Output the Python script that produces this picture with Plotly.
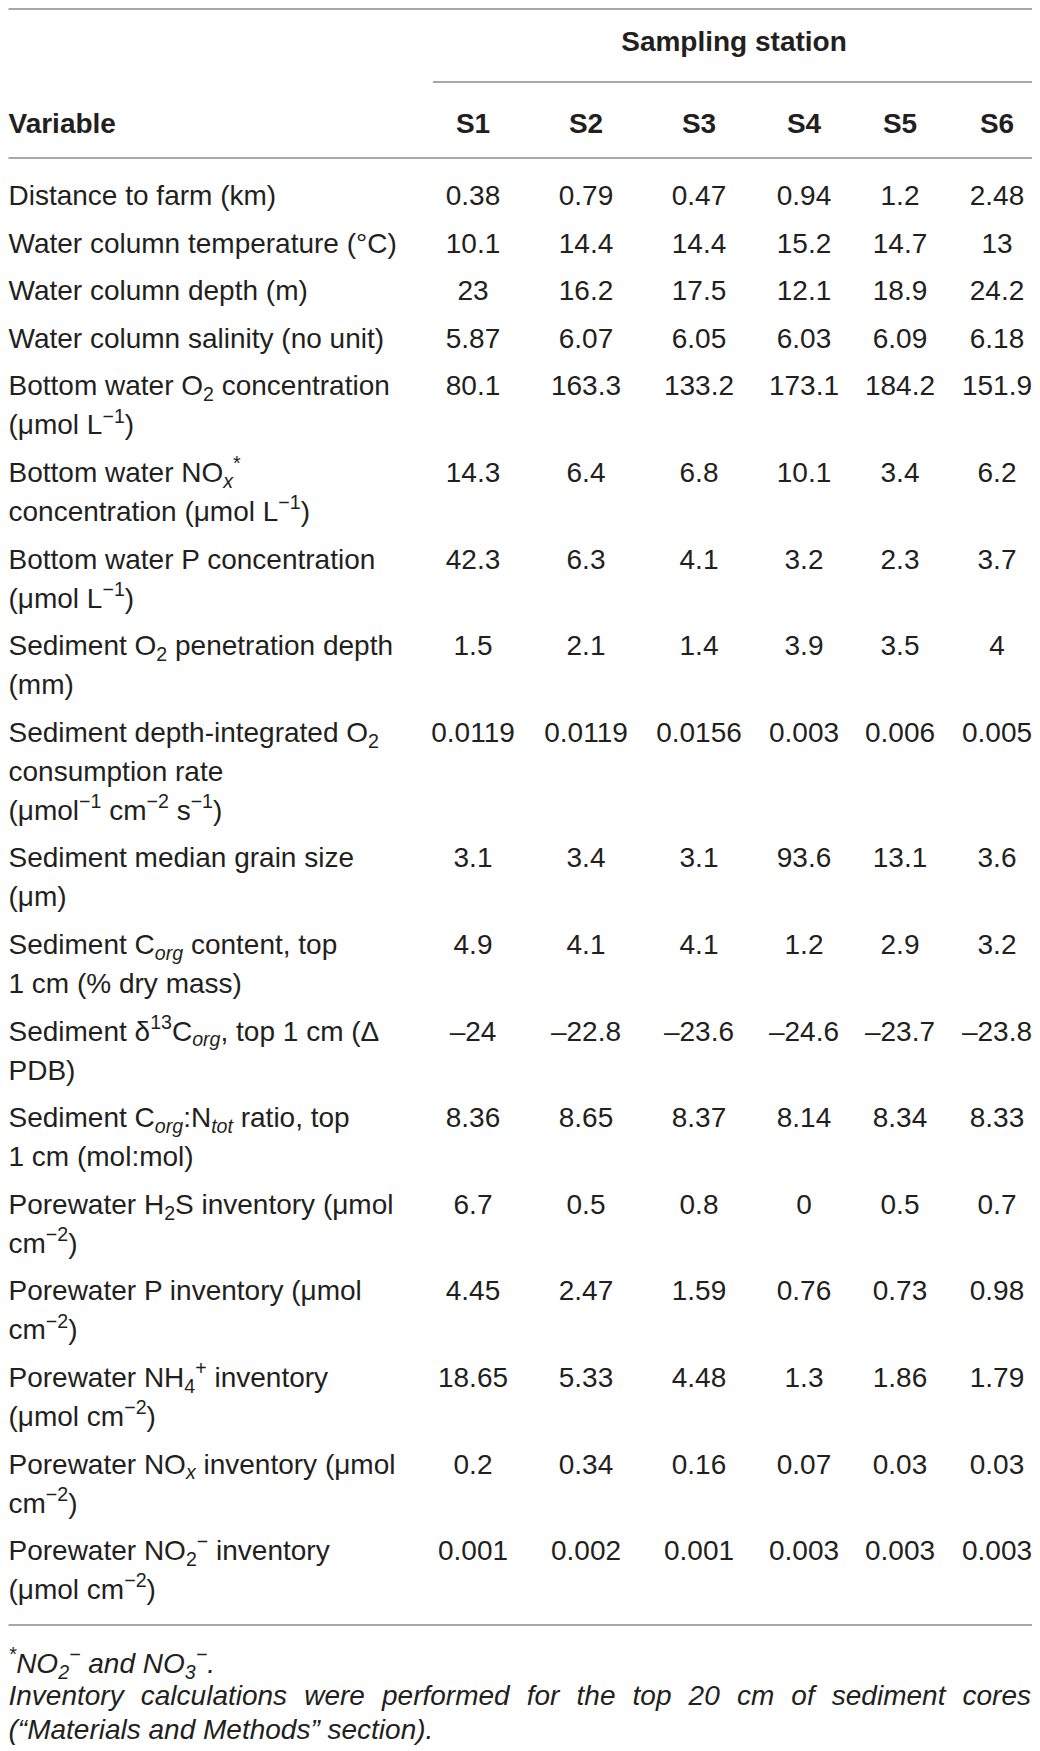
import plotly.graph_objects as go

# ---------------- data ----------------
stations = ["S1", "S2", "S3", "S4", "S5", "S6"]

variables = [
    "Distance to farm (km)",
    "Water column temperature (°C)",
    "Water column depth (m)",
    "Water column salinity (no unit)",
    "Bottom water O<sub>2</sub> concentration<br>(μmol L<sup>−1</sup>)",
    "Bottom water NO<sub><i>x</i></sub><sup>*</sup><br>concentration (μmol L<sup>−1</sup>)",
    "Bottom water P concentration<br>(μmol L<sup>−1</sup>)",
    "Sediment O<sub>2</sub> penetration depth<br>(mm)",
    "Sediment depth-integrated O<sub>2</sub><br>consumption rate<br>(μmol<sup>−1</sup> cm<sup>−2</sup> s<sup>−1</sup>)",
    "Sediment median grain size<br>(μm)",
    "Sediment C<sub><i>org</i></sub> content, top<br>1 cm (% dry mass)",
    "Sediment δ<sup>13</sup>C<sub><i>org</i></sub>, top 1 cm (Δ<br>PDB)",
    "Sediment C<sub><i>org</i></sub>:N<sub><i>tot</i></sub> ratio, top<br>1 cm (mol:mol)",
    "Porewater H<sub>2</sub>S inventory (μmol<br>cm<sup>−2</sup>)",
    "Porewater P inventory (μmol<br>cm<sup>−2</sup>)",
    "Porewater NH<sub>4</sub><sup>+</sup> inventory<br>(μmol cm<sup>−2</sup>)",
    "Porewater NO<sub><i>x</i></sub> inventory (μmol<br>cm<sup>−2</sup>)",
    "Porewater NO<sub>2</sub><sup>−</sup> inventory<br>(μmol cm<sup>−2</sup>)",
]

s1 = [0.38, 10.1, 23, 5.87, 80.1, 14.3, 42.3, 1.5, 0.0119, 3.1, 4.9, -24, 8.36, 6.7, 4.45, 18.65, 0.2, 0.001]
s2 = [0.79, 14.4, 16.2, 6.07, 163.3, 6.4, 6.3, 2.1, 0.0119, 3.4, 4.1, -22.8, 8.65, 0.5, 2.47, 5.33, 0.34, 0.002]
s3 = [0.47, 14.4, 17.5, 6.05, 133.2, 6.8, 4.1, 1.4, 0.0156, 3.1, 4.1, -23.6, 8.37, 0.8, 1.59, 4.48, 0.16, 0.001]
s4 = [0.94, 15.2, 12.1, 6.03, 173.1, 10.1, 3.2, 3.9, 0.003, 93.6, 1.2, -24.6, 8.14, 0, 0.76, 1.3, 0.07, 0.003]
s5 = [1.2, 14.7, 18.9, 6.09, 184.2, 3.4, 2.3, 3.5, 0.006, 13.1, 2.9, -23.7, 8.34, 0.5, 0.73, 1.86, 0.03, 0.003]
s6 = [2.48, 13, 24.2, 6.18, 151.9, 6.2, 3.7, 4, 0.005, 3.6, 3.2, -23.8, 8.33, 0.7, 0.98, 1.79, 0.03, 0.003]
station_values = [s1, s2, s3, s4, s5, s6]

group_title = "Sampling station"
first_header = "Variable"

footnotes = [
    "<sup>*</sup>NO<sub>2</sub><sup>−</sup> and NO<sub>3</sub><sup>−</sup>.",
    "Inventory calculations were performed for the top 20 cm of sediment cores",
    "(“Materials and Methods” section).",
]
justified_footnote = [False, True, False]

# ---------------- layout constants ----------------
W, H = 1040, 1751
PAGE_OFFSET = 8          # browser default body margin around the plot div
FONT = "Liberation Sans, Arial, Helvetica, sans-serif"
FS = 28
TXT = "#231f20"
RULE = "#8a8a8a"
LEFT = 8.5
RIGHT = 1035
GROUP_LEFT = 433
col_x = [473, 586, 699, 804, 900, 997]
TEXT_DY = 3              # optical centering correction for text
first_row_y = 195 + TEXT_DY
line_h = 39
row_gap = 47.6
header_y = 123 + TEXT_DY
group_y = 41 + TEXT_DY
foot_y = [1663 + TEXT_DY, 1695 + TEXT_DY, 1729 + TEXT_DY]
top_rule_y = 9


def fmt(v):
    return f"{v:g}".replace("-", "–")


def justify(s):
    # widen each word gap to stretch the line to the full table width
    return s.replace(" ", " \u2004")


# compute row positions from line counts
row_lines = [lab.split("<br>") for lab in variables]
row_y = []
y = first_row_y
for lines in row_lines:
    row_y.append(y)
    y += (len(lines) - 1) * line_h + row_gap

text_font = dict(family=FONT, size=FS, color=TXT)
fig = go.Figure()

# variable labels (one text item per line)
lab_x, lab_y, lab_t = [], [], []
for lines, y0 in zip(row_lines, row_y):
    for i, ln in enumerate(lines):
        lab_x.append(LEFT)
        lab_y.append(y0 + i * line_h)
        lab_t.append(ln)
fig.add_trace(go.Scatter(
    x=lab_x, y=lab_y, text=lab_t, mode="text",
    textposition="middle right", textfont=text_font,
    cliponaxis=False, hoverinfo="skip", showlegend=False,
))

# station values
for cx, vals in zip(col_x, station_values):
    fig.add_trace(go.Scatter(
        x=[cx] * len(vals), y=row_y, text=[fmt(v) for v in vals],
        mode="text", textposition="middle center", textfont=text_font,
        cliponaxis=False, hoverinfo="skip", showlegend=False,
    ))

# header row
fig.add_trace(go.Scatter(
    x=[LEFT], y=[header_y], text=[f"<b>{first_header}</b>"], mode="text",
    textposition="middle right", textfont=text_font,
    cliponaxis=False, hoverinfo="skip", showlegend=False,
))
fig.add_trace(go.Scatter(
    x=col_x, y=[header_y] * len(stations), text=[f"<b>{s}</b>" for s in stations],
    mode="text", textposition="middle center", textfont=text_font,
    cliponaxis=False, hoverinfo="skip", showlegend=False,
))
fig.add_trace(go.Scatter(
    x=[(GROUP_LEFT + RIGHT) / 2], y=[group_y], text=[f"<b>{group_title}</b>"],
    mode="text", textposition="middle center", textfont=text_font,
    cliponaxis=False, hoverinfo="skip", showlegend=False,
))

# footnotes
foot_text = [f"<i>{justify(t) if j else t}</i>" for t, j in zip(footnotes, justified_footnote)]
fig.add_trace(go.Scatter(
    x=[LEFT] * len(footnotes), y=foot_y, text=foot_text, mode="text",
    textposition="middle right", textfont=text_font,
    cliponaxis=False, hoverinfo="skip", showlegend=False,
))

# rules
rules = [(LEFT, RIGHT, top_rule_y), (GROUP_LEFT, RIGHT, 82), (LEFT, RIGHT, 158), (LEFT, RIGHT, 1625)]
for x0, x1, yy in rules:
    fig.add_shape(type="line", x0=x0, x1=x1, y0=yy, y1=yy, xref="x", yref="y",
                  line=dict(color=RULE, width=1.5))

fig.update_layout(
    width=W - PAGE_OFFSET, height=H - PAGE_OFFSET,
    margin=dict(l=0, r=0, t=0, b=0),
    paper_bgcolor="white", plot_bgcolor="white",
    xaxis=dict(range=[PAGE_OFFSET, W], visible=False, fixedrange=True),
    yaxis=dict(range=[H, PAGE_OFFSET], visible=False, fixedrange=True),
)

fig.write_html("out.html")
